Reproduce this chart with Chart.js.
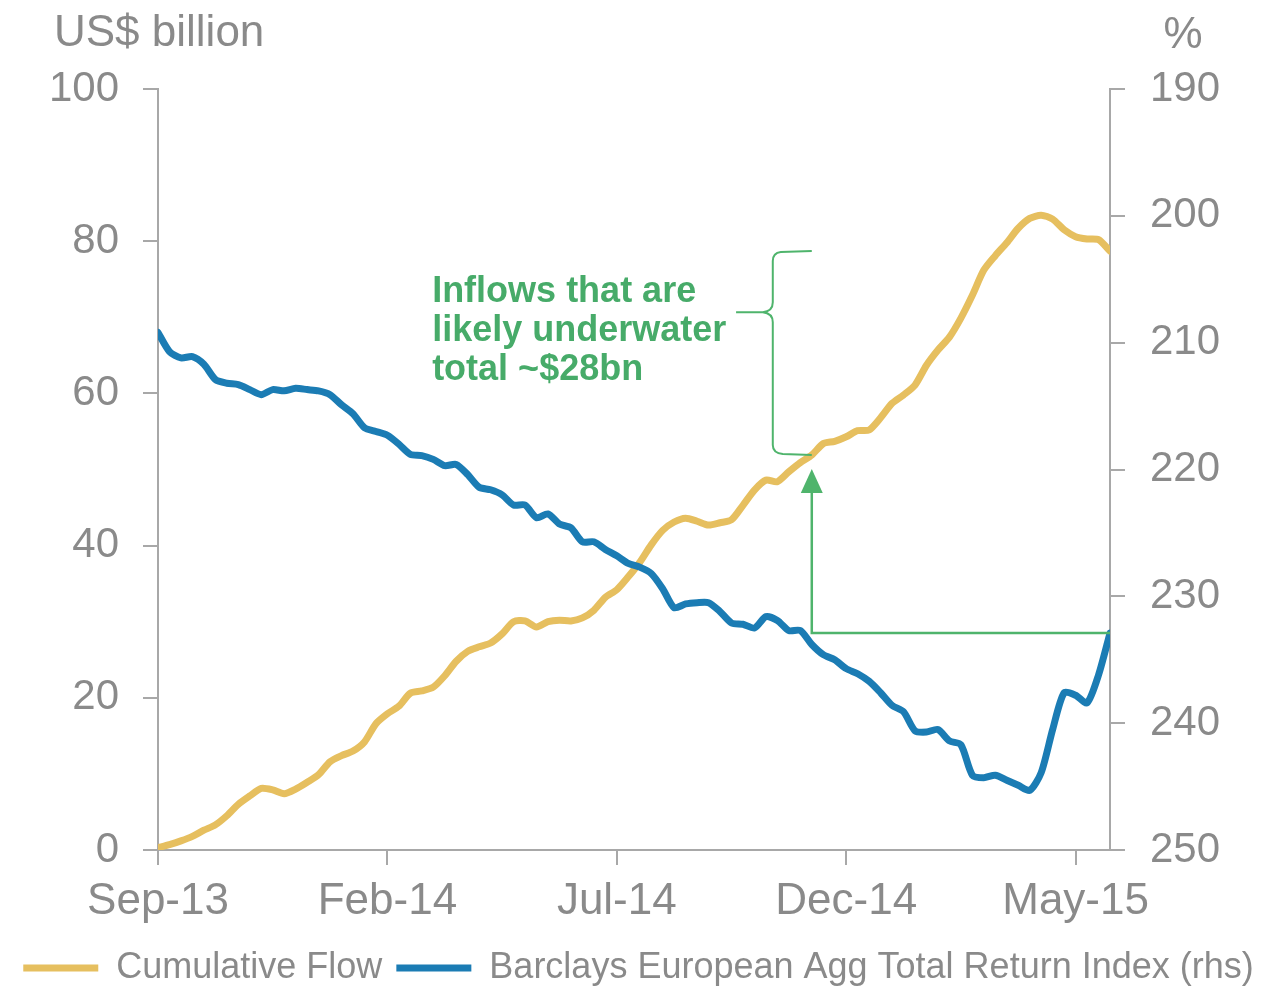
<!DOCTYPE html>
<html>
<head>
<meta charset="utf-8">
<script src="https://cdn.jsdelivr.net/npm/chart.js@4"></script>
<style>
  html, body { margin: 0; padding: 0; background: #fff; }
  #wrap { width: 1277px; height: 988px; }
</style>
</head>
<body>
<div id="wrap"><canvas id="flowChart"></canvas></div>
<script>
// weekly points, Sep-13 .. early Jun-15 (x = quarter-months since Sep-13)
const xTickPos = [0, 20, 40, 60, 80];
const xTickLabels = ['Sep-13', 'Feb-14', 'Jul-14', 'Dec-14', 'May-15'];

// Cumulative flow, US$ billion (lhs)
const cumulativeFlow = [
  0.3, 0.7, 1.2, 1.8, 2.6, 3.3, 4.5, 6.0, 7.1, 8.1,
  7.9, 7.4, 8.0, 8.9, 9.9, 11.6, 12.4, 13.0, 14.2, 16.6,
  17.9, 18.9, 20.6, 20.9, 21.4, 22.9, 24.8, 26.1, 26.7, 27.2,
  28.4, 30.0, 30.1, 29.3, 30.0, 30.2, 30.1, 30.5, 31.5, 33.2,
  34.2, 35.9, 37.8, 40.1, 42.0, 43.1, 43.6, 43.2, 42.7, 43.0,
  43.4, 45.3, 47.3, 48.6, 48.4, 49.7, 50.9, 51.9, 53.4, 53.7,
  54.3, 55.1, 55.2, 56.8, 58.7, 59.8, 61.1, 63.7, 65.7, 67.4,
  69.9, 72.9, 76.2, 78.1, 79.8, 81.7, 83.0, 83.4, 82.9, 81.5,
  80.6, 80.3, 80.2, 78.7
];

// Barclays European Agg Total Return Index (rhs, inverted)
const barclaysIndex = [
  209.2, 210.7, 211.2, 211.1, 211.7, 212.9, 213.2, 213.3, 213.7, 214.1,
  213.7, 213.8, 213.6, 213.7, 213.8, 214.1, 214.9, 215.6, 216.7, 217.0,
  217.3, 218.0, 218.8, 218.9, 219.2, 219.7, 219.6, 220.4, 221.4, 221.6,
  222.0, 222.8, 222.8, 223.8, 223.5, 224.3, 224.6, 225.7, 225.7, 226.3,
  226.8, 227.4, 227.7, 228.2, 229.4, 230.9, 230.6, 230.5, 230.5, 231.2,
  232.1, 232.2, 232.5, 231.6, 231.9, 232.7, 232.7, 233.8, 234.6, 235.0,
  235.7, 236.1, 236.7, 237.6, 238.6, 239.1, 240.6, 240.7, 240.5, 241.4,
  241.7, 244.1, 244.3, 244.1, 244.5, 244.9, 245.3, 243.9, 240.5, 237.6,
  237.8, 238.4, 236.2, 232.9
];

// week from which inflows are underwater
const underwaterFrom = 57;
const noteLines = ['Inflows that are', 'likely underwater', 'total ~$28bn'];

const FONT = "'Liberation Sans', Arial, sans-serif";
const GREY = '#8a8a8a';
const AXIS = '#a8a8a8';
const GOLD = '#e6bf5f';
const BLUE = '#1b7cb4';
const GREEN = '#4fb46c';

const toPoints = arr => arr.map((v, i) => ({ x: i, y: v }));

// axis unit titles above each y axis
const unitTitles = {
  id: 'unitTitles',
  afterDraw(chart) {
    const ctx = chart.ctx;
    ctx.save();
    ctx.fillStyle = GREY;
    ctx.font = '44px ' + FONT;
    ctx.textBaseline = 'middle';
    ctx.textAlign = 'left';
    ctx.fillText('US$ billion', 54, 34);
    ctx.textAlign = 'center';
    ctx.fillText('%', 1183, 36);
    ctx.restore();
  }
};

// arrow, brace and note for the underwater inflows
const underwaterNote = {
  id: 'underwaterNote',
  afterDatasetsDraw(chart) {
    const { ctx, scales } = chart;
    const x = scales.x, yl = scales.y, yr = scales.y1;
    const last = cumulativeFlow.length - 1;

    const xa = x.getPixelForValue(underwaterFrom);
    const xEnd = x.getPixelForValue(last);
    const yLevel = yr.getPixelForValue(barclaysIndex[last]);
    const yLow = yl.getPixelForValue(cumulativeFlow[underwaterFrom]);
    const yHigh = yl.getPixelForValue(cumulativeFlow[last]);

    ctx.save();
    ctx.strokeStyle = GREEN;
    ctx.fillStyle = GREEN;
    ctx.lineWidth = 2.5;

    // horizontal from the latest index level back to the same level
    ctx.beginPath();
    ctx.moveTo(xEnd, yLevel);
    ctx.lineTo(xa, yLevel);
    ctx.lineTo(xa, yLow + 30);
    ctx.stroke();

    // arrow head
    ctx.beginPath();
    ctx.moveTo(xa, yLow + 14);
    ctx.lineTo(xa - 11, yLow + 38);
    ctx.lineTo(xa + 11, yLow + 38);
    ctx.closePath();
    ctx.fill();

    // brace spanning the underwater flows
    const xv = x.getPixelForValue(53.6);
    const xTip = x.getPixelForValue(50.4);
    const yTip = yHigh + (yLow - yHigh) * 0.3;
    ctx.lineWidth = 2;
    ctx.beginPath();
    ctx.moveTo(xa, yHigh);
    ctx.lineTo(xv + 8, yHigh + 1);
    ctx.quadraticCurveTo(xv, yHigh + 2, xv, yHigh + 10);
    ctx.lineTo(xv, yTip - 10);
    ctx.quadraticCurveTo(xv, yTip - 1, xv - 10, yTip);
    ctx.lineTo(xTip, yTip);
    ctx.moveTo(xv - 10, yTip);
    ctx.quadraticCurveTo(xv, yTip + 1, xv, yTip + 10);
    ctx.lineTo(xv, yLow - 10);
    ctx.quadraticCurveTo(xv, yLow - 2, xv + 10, yLow - 1);
    ctx.lineTo(xa, yLow);
    ctx.stroke();

    // note text
    ctx.font = 'bold 36px ' + FONT;
    ctx.fillStyle = '#47ab69';
    ctx.textAlign = 'left';
    ctx.textBaseline = 'alphabetic';
    const tx = x.getPixelForValue(23.9);
    noteLines.forEach((t, i) => ctx.fillText(t, tx, yTip - 10 + i * 39));
    ctx.restore();
  }
};

const ctx = document.getElementById('flowChart');

const chart = new Chart(ctx, {
  type: 'line',
  data: {
    datasets: [
      {
        label: 'Cumulative Flow',
        data: toPoints(cumulativeFlow),
        yAxisID: 'y',
        borderColor: GOLD,
        backgroundColor: GOLD,
        borderWidth: 7,
        pointRadius: 0,
        tension: 0.25,
        borderJoinStyle: 'round',
        borderCapStyle: 'round',
        order: 2
      },
      {
        label: 'Barclays European Agg Total Return Index (rhs)',
        data: toPoints(barclaysIndex),
        yAxisID: 'y1',
        borderColor: BLUE,
        backgroundColor: BLUE,
        borderWidth: 7,
        pointRadius: 0,
        tension: 0.25,
        borderJoinStyle: 'round',
        borderCapStyle: 'round',
        order: 1
      }
    ]
  },
  options: {
    responsive: true,
    maintainAspectRatio: false,
    animation: false,
    layout: { padding: { top: 89, left: 0, right: 0, bottom: 0 } },
    plugins: {
      tooltip: { enabled: false },
      legend: {
        display: true,
        position: 'bottom',
        maxHeight: 52,
        labels: {
          boxWidth: 75,
          boxHeight: 7,
          padding: 14,
          color: GREY,
          font: { size: 36, family: FONT },
          generateLabels(chart) {
            return chart.data.datasets.map((ds, i) => ({
              text: ds.label,
              fillStyle: ds.borderColor,
              strokeStyle: ds.borderColor,
              lineWidth: 0,
              fontColor: GREY,
              hidden: false,
              datasetIndex: i
            }));
          }
        }
      }
    },
    scales: {
      x: {
        type: 'linear',
        min: 0,
        max: cumulativeFlow.length - 1,
        afterBuildTicks(scale) {
          scale.ticks = xTickPos.map(v => ({ value: v }));
        },
        afterFit(scale) { scale.height = 86; },
        ticks: {
          autoSkip: false,
          maxRotation: 0,
          padding: 10,
          color: GREY,
          font: { size: 44, family: FONT },
          callback: v => xTickLabels[xTickPos.indexOf(v)]
        },
        grid: { drawOnChartArea: false, drawTicks: true, tickLength: 15, color: AXIS, lineWidth: 2 },
        border: { display: true, color: AXIS, width: 2 }
      },
      y: {
        position: 'left',
        min: 0,
        max: 100,
        afterFit(scale) { scale.width = 158; },
        ticks: {
          stepSize: 20,
          padding: 24,
          color: GREY,
          font: { size: 42, family: FONT }
        },
        grid: { drawOnChartArea: false, drawTicks: true, tickLength: 15, color: AXIS, lineWidth: 2 },
        border: { display: true, color: AXIS, width: 2 }
      },
      y1: {
        position: 'right',
        reverse: true,
        min: 190,
        max: 250,
        afterFit(scale) { scale.width = 167; },
        ticks: {
          stepSize: 10,
          padding: 25,
          color: GREY,
          font: { size: 42, family: FONT }
        },
        grid: { drawOnChartArea: false, drawTicks: true, tickLength: 15, color: AXIS, lineWidth: 2 },
        border: { display: true, color: AXIS, width: 2 }
      }
    }
  },
  plugins: [unitTitles, underwaterNote]
});
</script>
</body>
</html>
